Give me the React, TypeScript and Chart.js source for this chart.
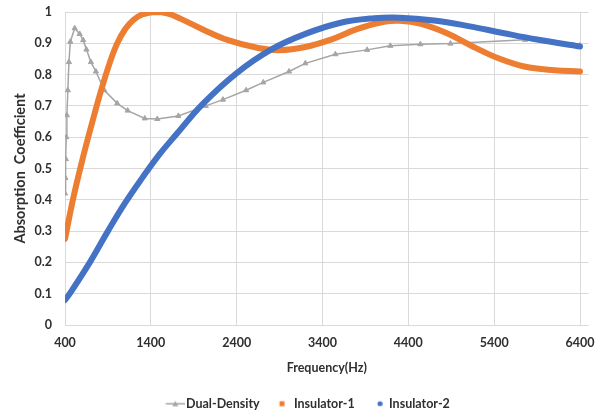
import React, { useEffect, useRef } from "react";
import { Chart, registerables } from "chart.js";

Chart.register(...registerables);

// ---- data ----
const xTickValues = [400, 1400, 2400, 3400, 4400, 5400, 6400];
const xTickLabels = ["400", "1400", "2400", "3400", "4400", "5400", "6400"];
const yTickValues = [0, 0.1, 0.2, 0.3, 0.4, 0.5, 0.6, 0.7, 0.8, 0.9, 1];
const yTickLabels = ["0", "0.1", "0.2", "0.3", "0.4", "0.5", "0.6", "0.7", "0.8", "0.9", "1"];

const seriesNames = ["Dual-Density", "Insulator-1", "Insulator-2"];

const dualFreq = [400, 404, 410, 415, 422, 433, 446, 462, 513, 571, 612, 650, 702, 760, 858, 1008, 1130, 1330, 1475, 1720, 2040, 2240, 2510, 2710, 3010, 3200, 3550, 3920, 4190, 4540, 4890, 5760, 6400];
const dualValues = [0.42, 0.47, 0.53, 0.6, 0.67, 0.75, 0.84, 0.905, 0.948, 0.93, 0.91, 0.88, 0.84, 0.81, 0.75, 0.708, 0.685, 0.66, 0.658, 0.668, 0.7, 0.72, 0.75, 0.775, 0.81, 0.836, 0.865, 0.879, 0.892, 0.897, 0.899, 0.911, 0.893];

const ins1Freq = [400, 500, 600, 700, 800, 900, 1000, 1100, 1200, 1300, 1450, 1600, 1750, 2000, 2300, 2650, 2900, 3200, 3500, 3800, 4100, 4300, 4550, 4850, 5150, 5450, 5750, 6100, 6400];
const ins1Values = [0.275, 0.41, 0.525, 0.63, 0.73, 0.82, 0.895, 0.945, 0.975, 0.992, 1.0, 0.995, 0.978, 0.945, 0.91, 0.885, 0.878, 0.888, 0.912, 0.945, 0.968, 0.972, 0.962, 0.932, 0.89, 0.852, 0.826, 0.814, 0.81];

const ins2Freq = [400, 455, 700, 900, 1100, 1300, 1500, 1700, 2000, 2400, 2800, 3200, 3600, 4000, 4300, 4700, 5100, 5500, 5900, 6400];
const ins2Values = [0.08, 0.1, 0.205, 0.3, 0.39, 0.47, 0.545, 0.61, 0.705, 0.805, 0.88, 0.93, 0.965, 0.98, 0.982, 0.973, 0.955, 0.933, 0.912, 0.89];

const GRAY = "#A5A5A5";
const ORANGE = "#ED7D31";
const BLUE = "#4472C4";
const TEXT = "#2f2f2f";
const GRID = "#D9D9D9";
const FONT = "Lato";

function makeIcon(kind: string): HTMLCanvasElement {
  const c = document.createElement("canvas");
  if (kind === "gray") {
    c.width = 34;
    c.height = 8;
    const g = c.getContext("2d")!;
    g.strokeStyle = GRAY;
    g.lineWidth = 1.5;
    g.beginPath();
    g.moveTo(14.5, 4);
    g.lineTo(34, 4);
    g.stroke();
    g.fillStyle = GRAY;
    g.beginPath();
    g.moveTo(24, 1);
    g.lineTo(27, 6.5);
    g.lineTo(21, 6.5);
    g.closePath();
    g.fill();
  } else if (kind === "orange") {
    c.width = 23;
    c.height = 8;
    const g = c.getContext("2d")!;
    g.fillStyle = ORANGE;
    g.fillRect(14.75, 1.5, 5, 5);
  } else {
    c.width = 23;
    c.height = 8;
    const g = c.getContext("2d")!;
    g.fillStyle = BLUE;
    g.beginPath();
    g.arc(20.25, 4, 2.5, 0, Math.PI * 2);
    g.fill();
  }
  return c;
}

export default function App() {
  const ref = useRef<HTMLCanvasElement>(null);

  useEffect(() => {
    document.body.style.margin = "0";
    const canvas = ref.current!;
    const icons = [makeIcon("gray"), makeIcon("orange"), makeIcon("blue")];
    const toPts = (xs: number[], ys: number[]) => xs.map((x, i) => ({ x, y: ys[i] }));

    const chart = new Chart(canvas, {
      type: "line",
      data: {
        datasets: [
          {
            label: seriesNames[0],
            data: toPts(dualFreq, dualValues),
            borderColor: GRAY,
            backgroundColor: GRAY,
            borderWidth: 1.5,
            pointStyle: "triangle",
            pointRadius: 3,
            pointBorderWidth: 1,
            pointBackgroundColor: GRAY,
            pointBorderColor: GRAY,
            tension: 0,
            order: 3,
          },
          {
            label: seriesNames[1],
            data: toPts(ins1Freq, ins1Values),
            borderColor: ORANGE,
            backgroundColor: ORANGE,
            borderWidth: 6,
            pointRadius: 0,
            tension: 0.4,
            borderCapStyle: "round",
            order: 2,
          },
          {
            label: seriesNames[2],
            data: toPts(ins2Freq, ins2Values),
            borderColor: BLUE,
            backgroundColor: BLUE,
            borderWidth: 6,
            pointRadius: 0,
            tension: 0.4,
            borderCapStyle: "round",
            order: 1,
          },
        ],
      },
      options: {
        responsive: false,
        animation: false,
        devicePixelRatio: 1,
        layout: { padding: { top: 12, right: 12.4, left: 18, bottom: -6 } },
        plugins: {
          tooltip: { enabled: false },
          legend: {
            position: "bottom",
            labels: {
              usePointStyle: true,
              pointStyleWidth: 23,
              padding: 5,
              color: TEXT,
              font: { family: FONT, size: 12.5, weight: "bold" },
              generateLabels: () =>
                seriesNames.map((name, i) => ({
                  text: name,
                  pointStyle: icons[i],
                  fillStyle: "transparent",
                  strokeStyle: "transparent",
                  lineWidth: 0,
                  hidden: false,
                  datasetIndex: i,
                  fontColor: TEXT,
                })),
            },
          },
        },
        scales: {
          x: {
            type: "linear",
            min: 400,
            max: 6500,
            afterBuildTicks: (scale: any) => {
              scale.ticks = xTickValues.map((v) => ({ value: v }));
            },
            afterFit: (scale: any) => {
              scale.height = 67.5;
            },
            ticks: {
              padding: 0,
              color: TEXT,
              font: { family: FONT, size: 12.5, weight: "bold" },
              maxRotation: 0,
              autoSkip: false,
              callback: (v: any) => {
                const i = xTickValues.indexOf(Number(v));
                return i >= 0 ? xTickLabels[i] : "";
              },
            },
            grid: { color: GRID, lineWidth: 1, drawTicks: true, tickLength: 10, tickColor: "transparent" },
            border: { display: false },
            title: {
              display: true,
              text: "Frequency(Hz)",
              color: TEXT,
              font: { family: FONT, size: 12.5, weight: "bold" },
              padding: { top: 0, bottom: 17.3 },
            },
          },
          y: {
            type: "linear",
            min: 0,
            max: 1,
            afterBuildTicks: (scale: any) => {
              scale.ticks = yTickValues.map((v) => ({ value: v }));
            },
            afterFit: (scale: any) => {
              scale.width = 47;
            },
            ticks: {
              padding: 0,
              color: TEXT,
              font: { family: FONT, size: 12.5, weight: "bold" },
              autoSkip: false,
              callback: (v: any) => {
                const i = yTickValues.findIndex((t) => Math.abs(t - Number(v)) < 1e-6);
                return i >= 0 ? yTickLabels[i] : "";
              },
            },
            grid: { color: GRID, lineWidth: 1, drawTicks: true, tickLength: 13, tickColor: "transparent" },
            border: { display: false },
            title: {
              display: true,
              text: "Absorption  Coefficient",
              color: TEXT,
              font: { family: FONT, size: 14.5, weight: "bold" },
              padding: { top: -6.7, bottom: 0 },
            },
          },
        },
      },
    } as any);

    return () => chart.destroy();
  }, []);

  return (
    <div style={{ position: "fixed", left: 0, top: 0, width: 601, height: 414, background: "#fff" }}>
      <canvas ref={ref} width={601} height={414} />
    </div>
  );
}
